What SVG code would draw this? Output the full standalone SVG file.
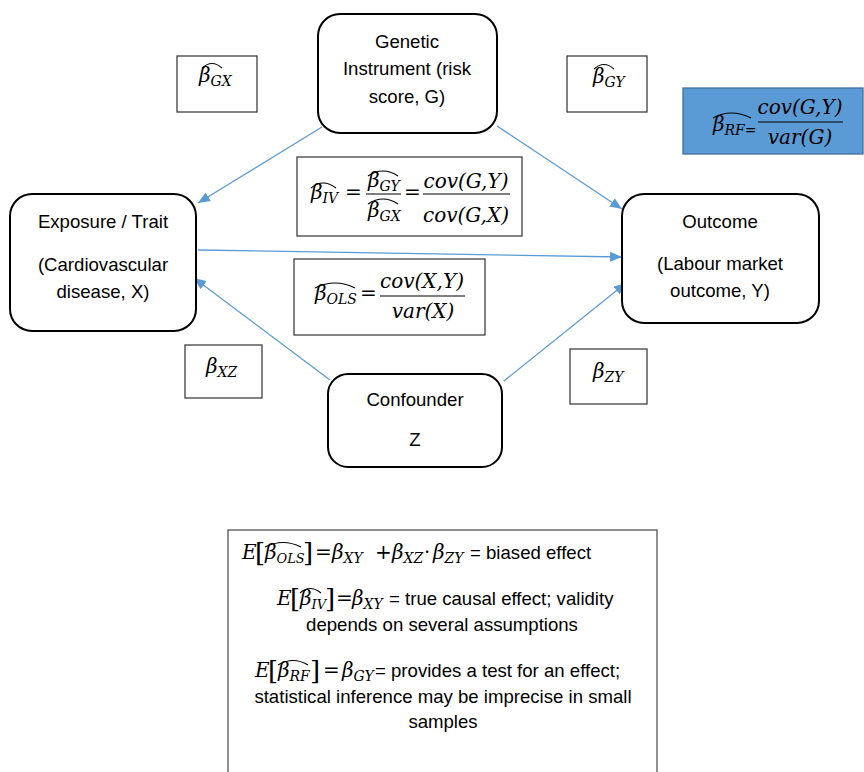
<svg xmlns="http://www.w3.org/2000/svg" width="864" height="772" viewBox="0 0 864 772">
<style>
.node{fill:#fff;stroke:#000;stroke-width:2}
.lbl{fill:#fff;stroke:#404040;stroke-width:1.3}
.t{font-family:"Liberation Sans",Arial,sans-serif;font-size:18.6px;fill:#000}
.c{text-anchor:middle}
.m{font-family:"DejaVu Serif","Liberation Serif",serif;font-style:italic;font-size:20px;fill:#000}
.r{font-family:"DejaVu Serif","Liberation Serif",serif;font-size:20px;fill:#000}
.br{font-family:"DejaVu Serif","Liberation Serif",serif;font-size:26px;fill:#000}
.s{font-size:14px}
.s2{font-size:13px}
.hat{fill:none;stroke:#000;stroke-width:1.1}
.fl{stroke:#000;stroke-width:1.2}
.conn{stroke:#5b9bd5;stroke-width:1.3;fill:none;marker-end:url(#ah)}
</style>
<defs>
<marker id="ah" markerUnits="userSpaceOnUse" markerWidth="12" markerHeight="10" refX="12" refY="5" orient="auto">
<path d="M0,0 L12,5 L0,10 z" fill="#5b9bd5"/>
</marker>
</defs>

<g id="connectors">
<line class="conn" x1="322" y1="127" x2="198" y2="203"/>
<line class="conn" x1="497" y1="126" x2="622" y2="209"/>
<line class="conn" x1="198" y1="250" x2="622" y2="257"/>
<line class="conn" x1="330" y1="380" x2="194" y2="278"/>
<line class="conn" x1="504" y1="381" x2="626" y2="283"/>
</g>

<g id="node-G">
<rect class="node" x="318" y="14" width="179" height="119" rx="22"/>
<text class="t c" x="407" y="48">Genetic</text>
<text class="t c" x="407" y="75">Instrument (risk</text>
<text class="t c" x="407" y="103">score, G)</text>
</g>

<g id="node-X">
<rect class="node" x="10" y="194" width="186" height="137" rx="22"/>
<text class="t c" x="103" y="228">Exposure / Trait</text>
<text class="t c" x="103" y="271">(Cardiovascular</text>
<text class="t c" x="103" y="298">disease, X)</text>
</g>

<g id="node-Y">
<rect class="node" x="622" y="194" width="197" height="129" rx="22"/>
<text class="t c" x="720" y="228">Outcome</text>
<text class="t c" x="720" y="270">(Labour market</text>
<text class="t c" x="720" y="297">outcome, Y)</text>
</g>

<g id="node-Z">
<rect class="node" x="328" y="374" width="174" height="93" rx="20"/>
<text class="t c" x="415" y="406">Confounder</text>
<text class="t c" x="415" y="446">Z</text>
</g>

<g id="label-GX">
<rect class="lbl" x="177" y="56" width="80" height="56"/>
<path class="hat" d="M202,68 Q212,59 222,68"/>
<text class="m" x="199" y="82">β<tspan class="s" dy="4">GX</tspan></text>
</g>

<g id="label-GY">
<rect class="lbl" x="567" y="56" width="80" height="56"/>
<path class="hat" d="M594,69 Q604,60 614,69"/>
<text class="m" x="593" y="83">β<tspan class="s" dy="4">GY</tspan></text>
</g>

<g id="label-RF">
<rect x="683" y="88" width="180" height="66" fill="#5b9bd5" stroke="#41719c" stroke-width="1.3"/>
<path class="hat" d="M713,118 Q731,108 751,118"/>
<text class="m" x="713" y="131">β<tspan class="s" dy="4">RF</tspan><tspan class="s" font-style="normal">=</tspan></text>
<text class="m c" x="800" y="114">cov(G,Y)</text>
<line class="fl" x1="758" y1="122" x2="843" y2="122"/>
<text class="m c" x="800" y="144">var(G)</text>
</g>

<g id="label-IV">
<rect class="lbl" x="297" y="157" width="225" height="79"/>
<path class="hat" d="M311,188 Q323,178 336,188"/>
<text class="m" x="311" y="199">β<tspan class="s" dy="4">IV</tspan></text>
<text class="r" x="345" y="199">=</text>
<path class="hat" d="M368,176 Q383,166 398,176"/>
<text class="m" x="368" y="187">β<tspan class="s" dy="4">GY</tspan></text>
<line class="fl" x1="366" y1="194" x2="401" y2="194"/>
<path class="hat" d="M368,204 Q383,194 398,204"/>
<text class="m" x="368" y="217">β<tspan class="s" dy="4">GX</tspan></text>
<text class="r" x="404" y="199">=</text>
<text class="m c" x="466" y="188">cov(G,Y)</text>
<line class="fl" x1="423" y1="194" x2="510" y2="194"/>
<text class="m c" x="466" y="222">cov(G,X)</text>
</g>

<g id="label-OLS">
<rect class="lbl" x="294" y="259" width="191" height="76"/>
<path class="hat" d="M315,288 Q335,278 355,288"/>
<text class="m" x="315" y="300">β<tspan class="s" dy="4">OLS</tspan></text>
<text class="r" x="360" y="300">=</text>
<text class="m c" x="422" y="288">cov(X,Y)</text>
<line class="fl" x1="380" y1="296" x2="465" y2="296"/>
<text class="m c" x="423" y="318">var(X)</text>
</g>

<g id="label-XZ">
<rect class="lbl" x="185" y="345" width="77" height="53"/>
<text class="m" x="206" y="373">β<tspan class="s" dy="4">XZ</tspan></text>
</g>

<g id="label-ZY">
<rect class="lbl" x="570" y="349" width="77" height="55"/>
<text class="m" x="593" y="378">β<tspan class="s" dy="4">ZY</tspan></text>
</g>

<g id="summary">
<rect x="228" y="530" width="429" height="260" fill="#fff" stroke="#555" stroke-width="1.3"/>
<text class="m" x="242" y="559">E</text>
<text class="br" x="255" y="562">[</text>
<path class="hat" d="M265,547 Q283,538 301,547"/>
<text class="m" x="265" y="559">β<tspan class="s2" dy="4">OLS</tspan></text>
<text class="br" x="303" y="562">]</text>
<text class="r" x="315" y="559">=</text>
<text class="m" x="332" y="559">β<tspan class="s" dy="4">XY</tspan></text>
<text class="r" x="375" y="559">+</text>
<text class="m" x="392" y="559">β<tspan class="s" dy="4">XZ</tspan></text>
<text class="r" x="424" y="559">·</text>
<text class="m" x="433" y="559">β<tspan class="s" dy="4">ZY</tspan></text>
<text class="t" x="470" y="559">= biased effect</text>

<text class="m" x="277" y="605">E</text>
<text class="br" x="290" y="608">[</text>
<path class="hat" d="M300,593 Q310,584 321,593"/>
<text class="m" x="300" y="605">β<tspan class="s2" dy="4">IV</tspan></text>
<text class="br" x="325" y="608">]</text>
<text class="r" x="336" y="605">=</text>
<text class="m" x="352" y="605">β<tspan class="s" dy="4">XY</tspan></text>
<text class="t" x="389" y="605">= true causal effect; validity</text>
<text class="t c" x="442" y="631">depends on several assumptions</text>

<text class="m" x="255" y="677">E</text>
<text class="br" x="268" y="680">[</text>
<path class="hat" d="M278,665 Q293,656 308,665"/>
<text class="m" x="278" y="677">β<tspan class="s" dy="4">RF</tspan></text>
<text class="br" x="310" y="680">]</text>
<text class="r" x="323" y="677">=</text>
<text class="m" x="342" y="677">β<tspan class="s" dy="4">GY</tspan></text>
<text class="t" x="375" y="677">= provides a test for an effect;</text>
<text class="t c" x="443" y="703">statistical inference may be imprecise in small</text>
<text class="t c" x="443" y="728">samples</text>
</g>
</svg>
